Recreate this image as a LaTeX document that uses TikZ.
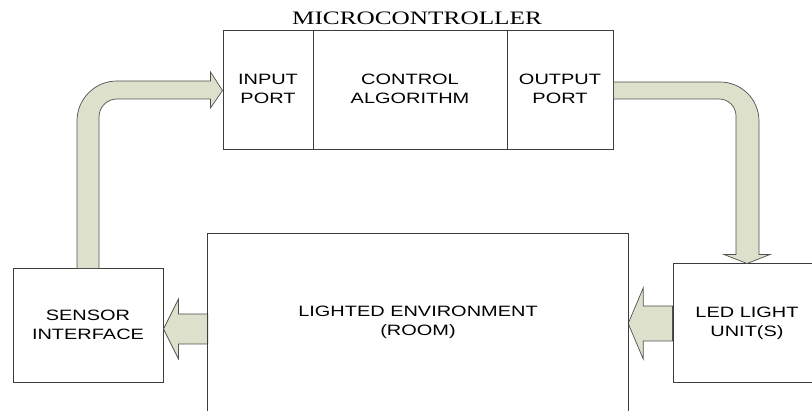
\documentclass[tikz,border=0pt]{standalone}
\usepackage{fontspec}
\usepackage{graphicx}
\setmainfont{Liberation Serif}
\newfontfamily\labelfont{Liberation Sans}
\usetikzlibrary{calc}
\definecolor{arrowfill}{RGB}{221,225,204}
\definecolor{arrowline}{RGB}{80,80,80}
\definecolor{boxline}{RGB}{60,60,60}
\newcommand{\lbl}[1]{\scalebox{1.33}[1]{\begin{tabular}{@{}c@{}}#1\end{tabular}}}
\tikzset{
  blk/.style={draw=boxline, line width=1pt, inner sep=0pt, font=\labelfont\fontsize{15}{19}\selectfont, fill=white},
  txt/.style={inner sep=0pt, font=\labelfont\fontsize{15}{19}\selectfont},
  fat/.style={fill=arrowfill, draw=arrowline, line width=0.7pt, line join=miter},
}
\begin{document}
\begin{tikzpicture}[x=1pt,y=1pt]
\useasboundingbox (0,0) rectangle (812,411);
\clip (0,0) rectangle (812,411);
\fill[white] (0,0) rectangle (812,411);

% microcontroller
\node[blk, minimum width=90, minimum height=119] (inport) at (268,320.5) {\lbl{INPUT\\PORT}};
\node[blk, minimum width=194, minimum height=119] (ctrl) at (410,320.5) {\lbl{CONTROL\\ALGORITHM}};
\node[blk, minimum width=106, minimum height=119] (outport) at (560,320.5) {\lbl{OUTPUT\\PORT}};
\node[anchor=base, inner sep=0pt, font=\fontsize{19}{22}\selectfont] (title) at (417,386) {\scalebox{1.33}[1]{MICROCONTROLLER}};

% lower blocks
\node[blk, minimum width=150, minimum height=114] (sensor) at (88,85) {\lbl{SENSOR\\INTERFACE}};
\node[txt, minimum width=420, minimum height=176] (room) at (418,89) {\lbl{LIGHTED ENVIRONMENT\\(ROOM)}};
\node[blk, minimum width=148, minimum height=119] (led) at (747,87.5) {\lbl{LED LIGHT\\UNIT(S)}};

% sensor -> input port
\draw[fat] let \p1=(sensor.north), \p2=(inport.west) in
  (\x1-11pt,\y1) -- (\x1-11pt,\y2-30.5pt)
  arc[start angle=180, end angle=90, radius=40pt]
  -- (\x2-12pt,\y2+9.5pt) -- (\x2-12pt,\y2+18.5pt) -- (\p2)
  -- (\x2-12pt,\y2-17.5pt) -- (\x2-12pt,\y2-8.5pt)
  -- (\x1+29pt,\y2-8.5pt)
  arc[start angle=90, end angle=180, radius=18pt]
  -- (\x1+11pt,\y1) -- cycle;

% output port -> led
\draw[fat] let \p1=(outport.east), \p2=(led.north) in
  (\x1,\y1+8.5pt) -- (\x2-27pt,\y1+8.5pt)
  arc[start angle=90, end angle=0, radius=39pt]
  -- (\x2+12pt,\y2+9pt) -- (\x2+23pt,\y2+9pt) -- (\p2)
  -- (\x2-23pt,\y2+9pt) -- (\x2-11pt,\y2+9pt)
  -- (\x2-11pt,\y1-25.5pt)
  arc[start angle=0, end angle=90, radius=17pt]
  -- (\x1,\y1-8.5pt) -- cycle;

% room -> sensor
\draw[fat] let \p1=(sensor.east), \p2=(room.west) in
  (\x2,\y1+12pt) -- (\x1+15pt,\y1+12pt) -- (\x1+15pt,\y1+27pt) -- (\x1,\y1-3pt)
  -- (\x1+15pt,\y1-33pt) -- (\x1+15pt,\y1-18pt) -- (\x2,\y1-18pt) -- cycle;

% led -> room
\draw[fat] let \p1=(led.west), \p2=(room.east) in
  (\x1,\y1+17.5pt) -- (\x2+15pt,\y1+17.5pt) -- (\x2+15pt,\y1+35.5pt) -- (\x2,\y1)
  -- (\x2+15pt,\y1-35.5pt) -- (\x2+15pt,\y1-17.5pt) -- (\x1,\y1-17.5pt) -- cycle;

% room frame (open at the bottom)
\draw[boxline, line width=1pt] ($(room.south west)+(0,-5)$) |- (room.north east) -- ($(room.south east)+(0,-5)$);
\end{tikzpicture}
\end{document}
